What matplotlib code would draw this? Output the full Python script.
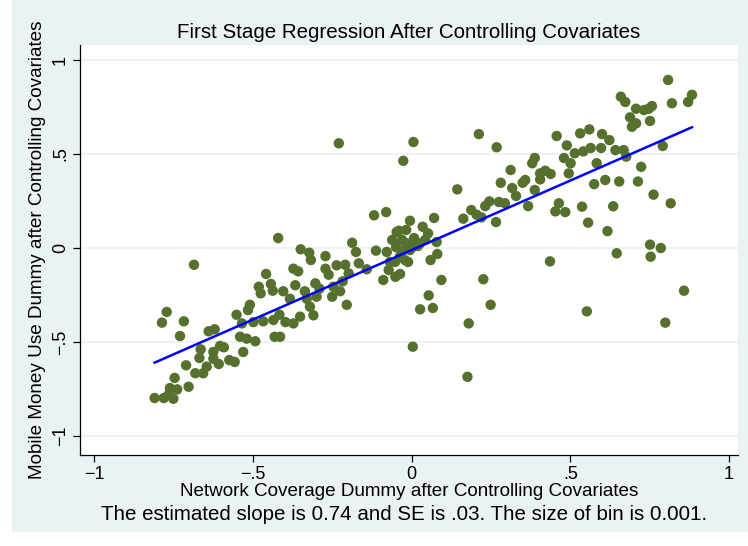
import matplotlib
matplotlib.use("Agg")
import matplotlib.pyplot as plt
from matplotlib.patches import Rectangle
import numpy as np

plt.rcParams['font.family'] = ['Liberation Sans', 'DejaVu Sans']

title = "First Stage Regression After Controlling Covariates"
xlabel = "Network Coverage Dummy after Controlling Covariates"
ylabel = "Mobile Money Use Dummy after Controlling Covariates"
note = "The estimated slope is 0.74 and SE is .03. The size of bin is 0.001."

tick_vals = [-1, -0.5, 0, 0.5, 1]
tick_labels = ["\u22121", "\u2212.5", "0", ".5", "1"]

slope = 0.74
intercept = -0.011

x_vals = [
    -0.685, -0.458, -0.481, -0.475, -0.443, -0.437, -0.771, -0.786, -0.717, -0.729,
    -0.639, -0.620, -0.551, -0.509, -0.515, -0.534, -0.498, -0.467, -0.435, -0.540,
    -0.519, -0.492, -0.431, -0.603, -0.591, -0.624, -0.664, -0.668, -0.530, -0.624,
    -0.607, -0.574, -0.557, -0.645, -0.710, -0.681, -0.656, -0.746, -0.702, -0.761,
    -0.738, -0.765, -0.809, -0.780, -0.750,
    -0.420, -0.349, -0.322, -0.271, -0.187, -0.175, -0.112, -0.078, -0.047, -0.030,
    -0.026, -0.021, -0.372, -0.357, -0.271, -0.261, -0.236, -0.209, -0.166, -0.141,
    -0.198, -0.072, -0.051, -0.089, -0.404, -0.366, -0.336, -0.303, -0.290, -0.246,
    -0.217, -0.383, -0.330, -0.299, -0.250, -0.225, -0.320, -0.204, -0.416, -0.351,
    -0.309, -0.397, -0.372, -0.414,
    -0.229, 0.006, -0.026, -0.118, -0.080, -0.005, 0.071, -0.040, 0.035, -0.317,
    -0.036, -0.061, -0.049, -0.036, -0.052, -0.005, 0.008, 0.020, 0.043, -0.011,
    -0.068, -0.017,
    0.144, 0.281, 0.317, 0.350, 0.388, 0.329, 0.367, 0.245, 0.275, 0.294,
    0.188, 0.205, 0.163, 0.220, 0.266, 0.052, 0.079, 0.081, 0.060, -0.015,
    0.006, 0.027, 0.094, 0.226, 0.054, 0.027, 0.067, 0.249, 0.180, 0.004,
    0.212, 0.268, 0.457, 0.531, 0.560, 0.489, 0.480, 0.501, 0.514, 0.541,
    0.564, 0.583, 0.388, 0.380, 0.312, 0.405, 0.421, 0.438, 0.495, 0.358,
    0.405, 0.575, 0.232, 0.464, 0.453, 0.484, 0.537, 0.556, 0.436, 0.552,
    0.176,
    0.673, 0.688, 0.707, 0.600, 0.623, 0.597, 0.642, 0.668, 0.676, 0.723,
    0.610, 0.654, 0.713, 0.635, 0.617,
    0.808, 0.659, 0.883, 0.871, 0.820, 0.707, 0.732, 0.757, 0.747, 0.694,
    0.751, 0.791, 0.762, 0.816, 0.646, 0.751, 0.785, 0.753, 0.858, 0.799,
]

y_vals = [
    -0.089, -0.138, -0.206, -0.241, -0.191, -0.227, -0.340, -0.397, -0.390, -0.468,
    -0.443, -0.432, -0.355, -0.302, -0.330, -0.401, -0.394, -0.390, -0.383, -0.472,
    -0.482, -0.496, -0.472, -0.521, -0.528, -0.553, -0.539, -0.585, -0.553, -0.589,
    -0.617, -0.596, -0.606, -0.631, -0.624, -0.666, -0.666, -0.691, -0.738, -0.745,
    -0.752, -0.780, -0.798, -0.798, -0.802,
    0.053, -0.007, -0.025, -0.043, 0.028, -0.021, -0.014, -0.021, 0.085, 0.043,
    -0.011, -0.064, -0.110, -0.124, -0.110, -0.142, -0.092, -0.089, -0.081, -0.113,
    -0.135, -0.117, -0.153, -0.170, -0.230, -0.198, -0.230, -0.188, -0.216, -0.206,
    -0.177, -0.270, -0.270, -0.259, -0.259, -0.230, -0.312, -0.302, -0.355, -0.365,
    -0.358, -0.394, -0.401, -0.472,
    0.557, 0.564, 0.464, 0.174, 0.191, 0.145, 0.160, 0.092, 0.113, -0.064,
    -0.138, 0.043, 0.005, -0.043, -0.074, -0.011, 0.053, 0.011, 0.043, -0.074,
    -0.074, 0.096,
    0.312, 0.347, 0.319, 0.347, 0.309, 0.277, 0.223, 0.248, 0.245, 0.238,
    0.202, 0.177, 0.156, 0.163, 0.138, 0.078, 0.032, -0.032, -0.064, 0.025,
    0.007, 0.025, -0.170, -0.166, -0.252, -0.326, -0.319, -0.302, -0.401, -0.525,
    0.606, 0.536, 0.596, 0.610, 0.631, 0.546, 0.479, 0.451, 0.504, 0.514,
    0.532, 0.451, 0.479, 0.451, 0.415, 0.397, 0.411, 0.394, 0.397, 0.362,
    0.365, 0.340, 0.223, 0.238, 0.195, 0.191, 0.220, 0.135, -0.071, -0.337,
    -0.685,
    0.777, 0.695, 0.663, 0.606, 0.574, 0.532, 0.521, 0.521, 0.486, 0.432,
    0.362, 0.354, 0.354, 0.222, 0.090,
    0.894, 0.805, 0.815, 0.777, 0.770, 0.741, 0.734, 0.755, 0.741, 0.645,
    0.676, 0.543, 0.284, 0.238, -0.028, 0.018, 0.000, -0.046, -0.227, -0.397,
]

bg = "#EAF2F3"
marker_color = "#56702E"

fig = plt.figure(figsize=(7.48, 5.46), dpi=100)
fig.patch.set_facecolor("white")
fig.patches.append(Rectangle((12 / 748, 14 / 546), 736 / 748, 532 / 546,
                             transform=fig.transFigure, facecolor=bg,
                             edgecolor="none", zorder=-10))

ax = fig.add_axes([80 / 748, 1 - 455 / 546, 658 / 748, 410 / 546])
ax.set_facecolor("white")

ax.set_xlim(-1.044, 1.028)
ax.set_ylim(-1.101, 1.080)

for v in tick_vals:
    ax.axhline(v, color=bg, lw=1.4, zorder=0)

ax.scatter(x_vals, y_vals, s=56, color=marker_color, edgecolors="none", zorder=2)

xs = np.array([min(x_vals), max(x_vals)])
ax.plot(xs, intercept + slope * xs, color="#0000FF", lw=1.8, zorder=3)

for side in ["top", "right"]:
    ax.spines[side].set_visible(False)
for side in ["left", "bottom"]:
    ax.spines[side].set_color("black")
    ax.spines[side].set_linewidth(0.9)

ax.set_xticks(tick_vals)
ax.set_xticklabels(tick_labels, fontsize=13)
ax.set_yticks(tick_vals)
ax.set_yticklabels(tick_labels, fontsize=13, rotation=90, va="center")
ax.tick_params(axis="both", direction="out", length=5, width=0.9, color="black", pad=3)

ax.set_title(title, fontsize=14.8, pad=5)
ax.set_xlabel(xlabel, fontsize=13.6, labelpad=0)
ax.set_ylabel(ylabel, fontsize=13.6, labelpad=4)

fig.text(404 / 748, 1 - 514 / 546, note, fontsize=14.8, ha="center", va="center")

fig.savefig("out.png", dpi=100, facecolor=fig.get_facecolor())
